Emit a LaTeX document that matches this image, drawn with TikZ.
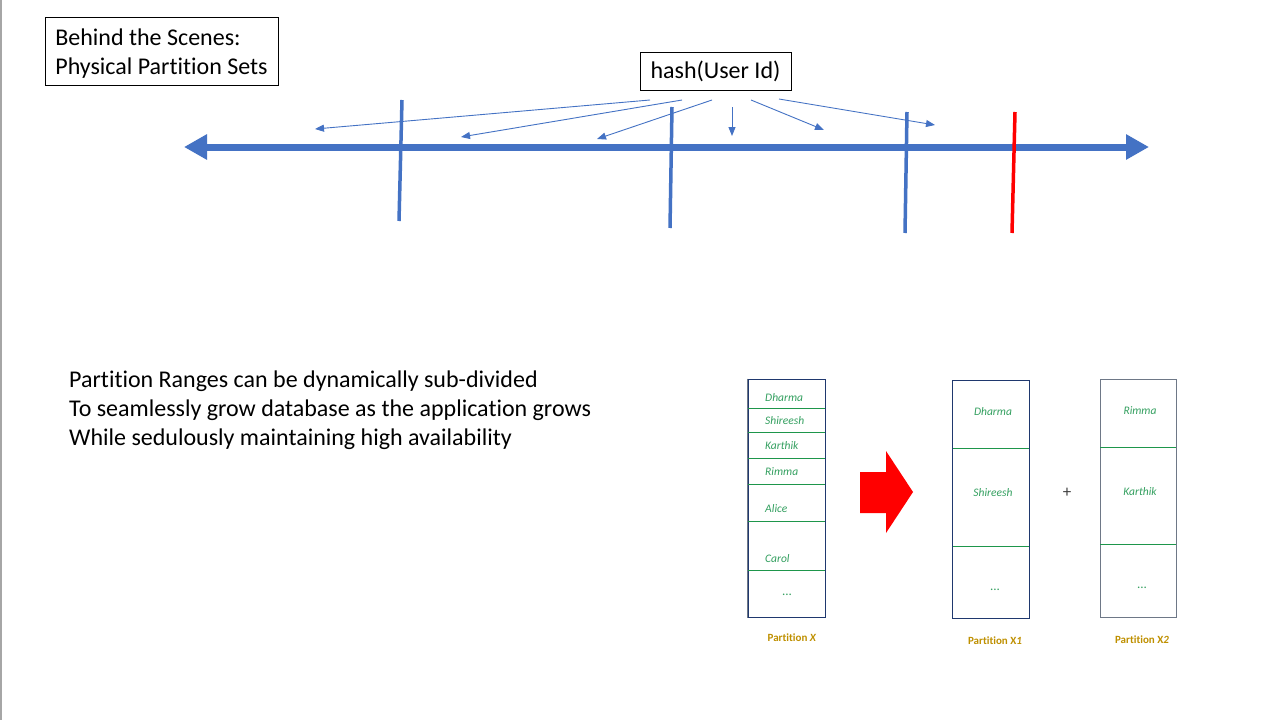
\documentclass[tikz,border=0pt]{standalone}
\usepackage{fontspec}
\setmainfont{Carlito}[Ligatures=NoCommon]
\usetikzlibrary{arrows.meta}
\definecolor{axisblue}{HTML}{4472C4}
\definecolor{namegreen}{RGB}{52,160,96}
\definecolor{divgreen}{RGB}{30,150,75}
\definecolor{gold}{RGB}{191,144,0}
\definecolor{navy}{RGB}{31,56,110}
\definecolor{slate}{RGB}{110,120,135}
\begin{document}
\begin{tikzpicture}[x=1pt,y=-1pt,
  plainbox/.style={draw=black, line width=1pt, inner sep=0pt, font=\fontsize{24}{29}\selectfont},
  tickline/.style={axisblue, line width=3.5pt},
  hasharrow/.style={axisblue, line width=0.9pt, -{Triangle[length=9pt,width=7pt]}},
  partbox/.style={draw=navy, line width=1pt, minimum width=77pt, inner sep=0pt},
  divider/.style={divgreen, line width=1pt},
  pname/.style={text=namegreen, font=\fontsize{11.5}{13}\selectfont\itshape, inner sep=0pt},
  dots/.style={text=namegreen, font=\fontsize{13}{14}\selectfont, inner sep=0pt},
  plabel/.style={text=gold, font=\fontsize{11}{13}\selectfont\bfseries, inner sep=0pt}
]
\useasboundingbox[fill=white] (0,0) rectangle (1280,720);
\draw[gray!70, line width=1.5pt] (0.75,0) -- (0.75,720);

% title
\node[plainbox, minimum width=233pt, minimum height=68pt] (title) at (161.5,51)
  {\raisebox{-3pt}[\height][\depth]{\begin{tabular}{@{}l@{}}Behind the Scenes:\\Physical Partition Sets\end{tabular}}};

% hash box
\node[plainbox, minimum width=151pt, minimum height=38pt] (hash) at (715.5,71) {hash(User Id)};

% axis
\coordinate (axL) at (184,147);
\coordinate (axR) at (1149,147);
\draw[axisblue, line width=7pt, {Triangle[length=23pt,width=24pt]}-{Triangle[length=23pt,width=24pt]}] (axL) -- (axR);

% ticks
\draw[tickline] (402,100) -- (399,221);
\draw[tickline] (672,107) -- (670,228);
\draw[tickline] (907,112) -- (905,233);
\draw[tickline, red] (1015,112) -- (1012,233);

% hash arrows
\coordinate (s1) at (650,100); \coordinate (e1) at (315,129);
\coordinate (s2) at (682,100); \coordinate (e2) at (461,137);
\coordinate (s3) at (712,100); \coordinate (e3) at (597,139);
\coordinate (s4) at (732,107); \coordinate (e4) at (732,136);
\coordinate (s5) at (751,100); \coordinate (e5) at (824,130);
\coordinate (s6) at (779,99);  \coordinate (e6) at (935,125);
\foreach \i in {1,...,6} \draw[hasharrow] (s\i) -- (e\i);

% bottom text
\node[anchor=north west, inner sep=0pt, align=left, font=\fontsize{24}{29}\selectfont] (desc) at (69,371)
  {Partition Ranges can be dynamically sub-divided\\To seamlessly grow database as the application grows\\While sedulously maintaining high availability};

% Partition X
\node[partbox, minimum height=238pt] (px) at (786.5,498) {};
\draw[slate, line width=1.2pt] (px.north west) -- (px.south west);
\foreach \y in {408,432,458,484,521,570} \draw[divider] (748,\y) -- (825,\y);
\node[pname, anchor=west] (xa) at (765,398) {Dharma};
\node[pname, anchor=west] (xb) at (765,421) {Shireesh};
\node[pname, anchor=west] (xc) at (765,446) {Karthik};
\node[pname, anchor=west] (xd) at (765,472) {Rimma};
\node[pname, anchor=west] (xe) at (765,509) {Alice};
\node[pname, anchor=west] (xf) at (765,559) {Carol};
\node[dots] (xg) at (787,595) {...};
\node[plabel] (lx) at (792,638) {Partition \textit{X}};

% red arrow
\fill[red] (860,472) -- (886,472) -- (886,451) -- (913,492) -- (886,533) -- (886,513) -- (860,513) -- cycle;

% Partition X1
\node[partbox, minimum height=238pt] (px1) at (991,499) {};
\foreach \y in {448,546} \draw[divider] (953,\y) -- (1029,\y);
\node[pname] (ya) at (993,412) {Dharma};
\node[pname] (yb) at (993,493) {Shireesh};
\node[dots] (yc) at (995,590) {...};
\node[plabel] (lx1) at (995,641) {Partition X\textit{1}};

% plus
\node[text=black!75, font=\fontsize{17}{18}\selectfont, inner sep=0pt] (plus) at (1067,493) {+};

% Partition X2
\node[partbox, draw=slate, minimum width=76pt, minimum height=238pt] (px2) at (1138,498) {};
\foreach \y in {447,544} \draw[divider] (1100,\y) -- (1176,\y);
\node[pname] (za) at (1140,411) {Rimma};
\node[pname] (zb) at (1140,492) {Karthik};
\node[dots] (zc) at (1142,588) {...};
\node[plabel] (lx2) at (1142,640) {Partition X\textit{2}};
\end{tikzpicture}
\end{document}
